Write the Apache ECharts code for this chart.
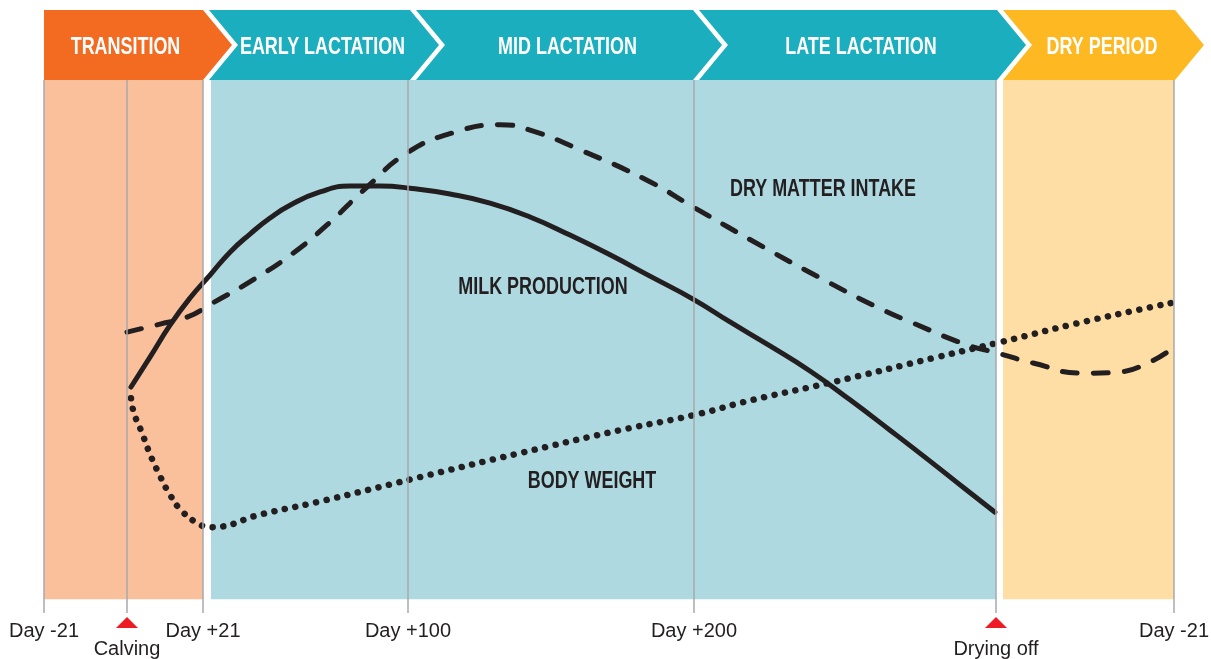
<!DOCTYPE html>
<html>
<head>
<meta charset="utf-8">
<title>Dairy cow lactation cycle</title>
<script src="https://cdn.jsdelivr.net/npm/echarts@6/dist/echarts.min.js"></script>
<style>
  html, body { margin: 0; padding: 0; background: #ffffff; }
  #chart { width: 1211px; height: 659px; }
</style>
</head>
<body>
<div id="chart"></div>
<script>
// Timeline runs on a schematic position scale (not linear in days).
const milestonePos = [0, 8.3, 15.9, 36.4, 65.0, 95.2, 113.0];
const milestoneLabels = ['Day -21', 'Calving', 'Day +21', 'Day +100', 'Day +200', 'Drying off', 'Day -21'];
const eventMilestones = ['Calving', 'Drying off'];

// Phase banners across the top: [start, end] on the timeline
const phaseNames = ['TRANSITION', 'EARLY LACTATION', 'MID LACTATION', 'LATE LACTATION', 'DRY PERIOD'];
const phaseRanges = [[0, 15.9], [15.9, 36.6], [36.6, 64.9], [64.9, 95.3], [95.3, 113.1]];
const phaseColors = ['#F36A21', '#1AAEBE', '#1AAEBE', '#1AAEBE', '#FDB822'];

// Shaded backgrounds: [from, to]
const bandRanges = [[0, 15.9], [16.7, 95.2], [95.9, 113.0]];
const bandColors = ['#FAC09B', '#AED9E0', '#FEDEA5'];

// Curves (relative level 0-100 against timeline position)
const milkProduction = [
  [8.7, 42.4], [10.6, 48.0], [12.6, 54.0], [14.6, 59.1], [16.6, 63.4], [18.6, 67.7],
  [20.6, 71.1], [22.6, 74.1], [24.6, 76.5], [27.6, 79.0], [30.6, 80.1], [33.6, 80.1],
  [36.6, 79.7], [40.6, 78.6], [44.6, 76.9], [48.6, 74.3], [52.6, 70.9], [56.6, 67.2],
  [60.6, 63.2], [64.9, 58.9], [68.6, 54.6], [72.6, 50.1], [76.6, 45.4], [80.6, 40.0],
  [84.6, 34.3], [88.6, 28.5], [92.1, 23.3], [95.1, 18.9]
];
const dryMatterIntake = [
  [8.3, 52.7], [11.6, 54.2], [14.3, 55.5], [16.9, 58.2], [20.9, 62.5], [24.9, 67.5],
  [28.3, 72.8], [32.3, 79.9], [36.3, 86.3], [40.9, 90.1], [45.6, 91.6], [48.6, 90.6],
  [53.6, 86.9], [60.3, 81.2], [64.9, 76.2], [71.9, 68.7], [78.6, 61.9], [83.3, 57.4],
  [86.9, 54.4], [92.3, 50.3], [95.3, 48.8], [98.9, 46.9], [103.9, 45.0], [107.3, 45.2],
  [110.6, 47.1], [113.0, 49.9]
];
const bodyWeight = [
  [8.7, 40.3], [9.0, 37.5], [9.8, 33.8], [10.6, 29.8], [11.5, 26.1], [12.5, 22.5],
  [13.8, 19.1], [15.5, 16.7], [16.6, 16.1], [21.9, 18.6], [27.3, 20.8], [34.8, 24.2],
  [37.6, 25.5], [47.6, 30.0], [57.6, 34.3], [64.9, 37.1], [70.9, 40.0], [78.6, 43.2],
  [89.3, 48.0], [95.6, 50.8], [103.9, 54.6], [112.8, 58.2]
];

// Curve name labels: [x, y] placement and text
const curveLabelText = ['DRY MATTER INTAKE', 'MILK PRODUCTION', 'BODY WEIGHT'];
const curveLabelPos = [[77.9, 79.4], [49.9, 61.0], [54.8, 24.6]];

const bandFloor = 2.6;     // shaded areas stop just above the tick labels
const markerLevel = -1.8;  // red event markers sit below the axis

const INK = '#231F20';
const CONDENSED = 0.78;

const chart = echarts.init(document.getElementById('chart'), null, { renderer: 'canvas' });

function renderBand(params, api) {
  const i = params.dataIndex;
  const p0 = api.coord([api.value(0), 100]);
  const p1 = api.coord([api.value(1), bandFloor]);
  return {
    type: 'rect',
    shape: { x: p0[0], y: p0[1], width: p1[0] - p0[0], height: p1[1] - p0[1] },
    style: { fill: bandColors[i] }
  };
}

function renderPhase(params, api) {
  const i = params.dataIndex;
  const xs = api.coord([api.value(0), 100])[0];
  const xe = api.coord([api.value(1), 100])[0];
  const yb = api.coord([0, 100])[1];
  const yt = yb - 70;
  const ym = (yt + yb) / 2;
  const depth = 29, gap = 6;
  let pts, leftFlat;
  if (i === 0) {
    pts = [[xs, yt], [xe, yt], [xe + depth, ym], [xe, yb], [xs, yb]];
    leftFlat = xs + 4;
  } else {
    pts = [[xs + gap, yt], [xe, yt], [xe + depth, ym], [xe, yb], [xs + gap, yb], [xs + gap + depth, ym]];
    leftFlat = xs + gap + depth - 3;
  }
  return {
    type: 'group',
    children: [
      { type: 'polygon', shape: { points: pts }, style: { fill: phaseColors[i] } },
      {
        type: 'text',
        x: (leftFlat + xe) / 2, y: ym + 3, scaleX: CONDENSED,
        style: {
          text: phaseNames[i], fill: '#ffffff',
          font: 'bold 23px "Liberation Sans", Arial, sans-serif',
          align: 'center', verticalAlign: 'middle'
        }
      }
    ]
  };
}

function renderCurveLabel(params, api) {
  const i = params.dataIndex;
  const p = api.coord([api.value(0), api.value(1)]);
  return {
    type: 'text',
    x: p[0], y: p[1], scaleX: CONDENSED,
    style: {
      text: curveLabelText[i], fill: INK,
      font: 'bold 23px "Liberation Sans", Arial, sans-serif',
      align: 'center', verticalAlign: 'middle'
    }
  };
}

const curveStyle = { color: INK, width: 5, cap: 'round', join: 'round' };

const option = {
  animation: false,
  backgroundColor: '#ffffff',
  grid: { left: 44, right: 37, top: 80, bottom: 46, containLabel: false, outerBoundsMode: 'none' },
  xAxis: {
    type: 'value', min: 0, max: 113,
    axisLine: { show: false },
    axisTick: { show: false },
    splitLine: { show: false },
    axisLabel: {
      customValues: milestonePos,
      showMinLabel: true, showMaxLabel: true,
      margin: 8,
      color: INK,
      fontSize: 20,
      fontFamily: '"Liberation Sans", Arial, sans-serif',
      formatter: function (v) {
        const idx = milestonePos.indexOf(v);
        const text = idx >= 0 ? milestoneLabels[idx] : '';
        return eventMilestones.indexOf(text) >= 0 ? '{ev|' + text + '}' : text;
      },
      rich: {
        ev: { fontSize: 20, color: INK, fontFamily: '"Liberation Sans", Arial, sans-serif', padding: [18, 0, 0, 0] }
      }
    }
  },
  yAxis: { type: 'value', min: 0, max: 100, show: false },
  series: [
    {
      name: 'bands', type: 'custom', z: 1, silent: true,
      renderItem: renderBand,
      data: bandRanges,
      markLine: {
        silent: true, symbol: 'none', label: { show: false },
        lineStyle: { color: '#A7A9AC', width: 1.5, type: 'solid' },
        data: milestonePos.map(function (x) { return { xAxis: x }; })
      }
    },
    {
      name: 'Milk production', type: 'line', z: 3, data: milkProduction,
      showSymbol: false, smooth: 0.5, lineStyle: curveStyle
    },
    {
      name: 'Dry matter intake', type: 'line', z: 3, data: dryMatterIntake,
      showSymbol: false, smooth: 0.5,
      lineStyle: Object.assign({}, curveStyle, { type: [15, 16] })
    },
    {
      name: 'Body weight', type: 'line', z: 3, data: bodyWeight,
      showSymbol: false, smooth: 0.5,
      lineStyle: Object.assign({}, curveStyle, { width: 6.5, type: [0.1, 10.6] })
    },
    {
      name: 'curve labels', type: 'custom', z: 4, silent: true,
      renderItem: renderCurveLabel, data: curveLabelPos
    },
    {
      name: 'phases', type: 'custom', z: 5, silent: true,
      renderItem: renderPhase, data: phaseRanges
    },
    {
      name: 'events', type: 'scatter', z: 5, silent: true, clip: false,
      symbol: 'path://M0,10 L10,0 L20,10 Z', symbolSize: [22, 11],
      itemStyle: { color: '#ED1C24', opacity: 1 },
      data: eventMilestones.map(function (n) { return [milestonePos[milestoneLabels.indexOf(n)], markerLevel]; })
    }
  ]
};

chart.setOption(option);
</script>
</body>
</html>
